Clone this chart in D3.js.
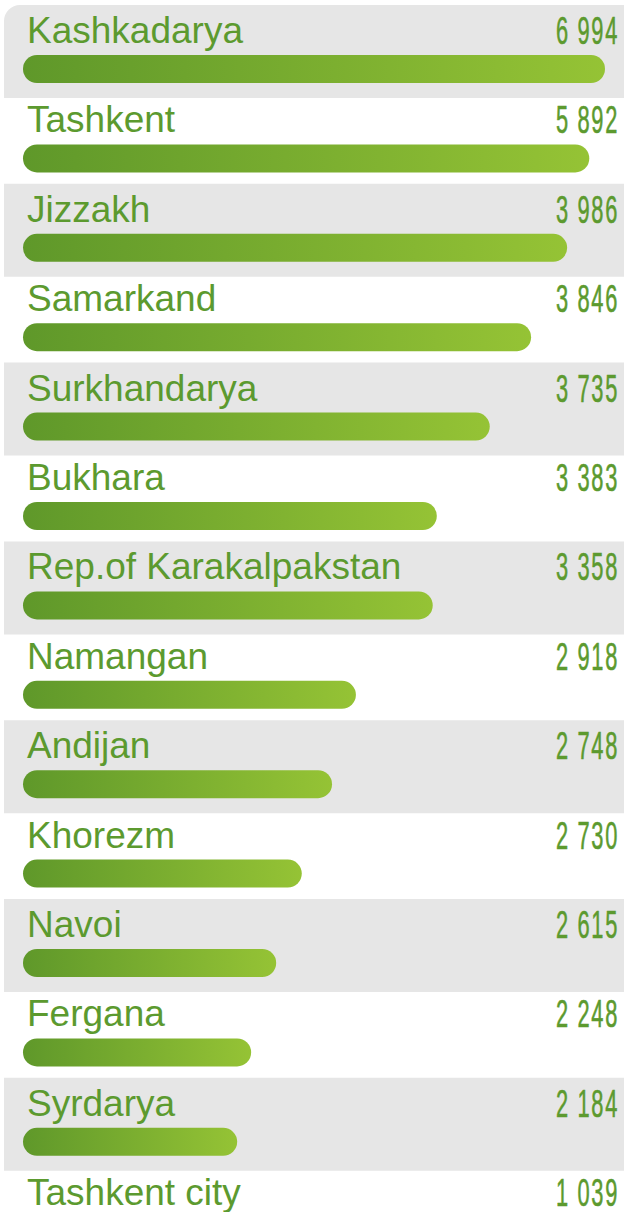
<!DOCTYPE html>
<html>
<head>
<meta charset="utf-8">
<script src="https://cdn.jsdelivr.net/npm/d3@7"></script>
<style>
  html, body { margin: 0; padding: 0; background: #ffffff; }
  svg { display: block; }
</style>
</head>
<body>
<div id="chart"></div>
<script>
// regions, in the order of the picture
var regions = ['Kashkadarya', 'Tashkent', 'Jizzakh', 'Samarkand', 'Surkhandarya', 'Bukhara',
  'Rep.of Karakalpakstan', 'Namangan', 'Andijan', 'Khorezm', 'Navoi', 'Fergana', 'Syrdarya', 'Tashkent city']
// printed numbers
var values = [6994, 5892, 3986, 3846, 3735, 3383, 3358, 2918, 2748, 2730, 2615, 2248, 2184, 1039]
// bar lengths (share of the longest bar, %)
var barShare = [100, 97.3, 93.5, 87.3, 80.2, 71.1, 70.4, 57.2, 53.1, 47.9, 43.5, 39.2, 36.8, 20]

var width = 624
var height = 1212
var rowStep = 89.4
var firstBaseline = 43

var svg = d3.select('#chart').append('svg')
  .attr('width', width)
  .attr('height', height)

var defs = svg.append('defs')
var grad = defs.append('linearGradient')
  .attr('id', 'barGrad')
  .attr('x1', '0%').attr('x2', '100%')
  .attr('y1', '0%').attr('y2', '0%')
grad.append('stop').attr('offset', '0%').attr('stop-color', '#5f982a')
grad.append('stop').attr('offset', '100%').attr('stop-color', '#95c335')

// row positions
var y = d3.scaleLinear()
  .domain([0, 1])
  .range([firstBaseline, firstBaseline + rowStep])

// bar length
var x = d3.scaleLinear()
  .domain([0, 100])
  .range([0, 582])

var rows = regions.map(function (name, i) {
  return { name: name, value: values[i], share: barShare[i], i: i }
})

var fmt = function (v) {
  return d3.format(',')(v).replace(',', ' ')
}

// gray bands on every second row
svg.selectAll('.band')
  .data(rows.filter(function (d) { return d.i % 2 === 0 }))
  .enter().append('path')
  .attr('class', 'band')
  .attr('fill', '#e6e6e6')
  .attr('d', function (d) {
    var top = y(d.i) - 38
    var h = 93
    var x0 = 4
    var x1 = width
    if (d.i === 0) {
      var r = 16
      return 'M' + x0 + ',' + (top + r) +
        'A' + r + ',' + r + ' 0 0 1 ' + (x0 + r) + ',' + top +
        'H' + x1 + 'V' + (top + h) + 'H' + x0 + 'Z'
    }
    return 'M' + x0 + ',' + top + 'H' + x1 + 'V' + (top + h) + 'H' + x0 + 'Z'
  })

var row = svg.selectAll('.row')
  .data(rows)
  .enter().append('g')
  .attr('class', 'row')
  .attr('transform', function (d) { return 'translate(0,' + y(d.i) + ')' })

row.append('text')
  .attr('x', 27)
  .attr('y', 0)
  .attr('fill', '#5c9a2f')
  .style('font-family', '"Liberation Sans", Arial, sans-serif')
  .style('font-size', '37px')
  .text(function (d) { return d.name })

// condensed numbers: squeeze the digits horizontally
row.append('text')
  .attr('transform', 'translate(619,1) scale(0.56,1)')
  .attr('text-anchor', 'end')
  .attr('fill', '#5c9a2f')
  .attr('stroke', '#5c9a2f')
  .attr('stroke-width', 0.6)
  .style('font-family', '"Liberation Sans", Arial, sans-serif')
  .style('font-size', '39px')
  .style('letter-spacing', '3px')
  .text(function (d) { return fmt(d.value) })

row.append('rect')
  .attr('x', 23)
  .attr('y', 12)
  .attr('height', 28)
  .attr('rx', 14)
  .attr('ry', 14)
  .attr('width', function (d) { return x(d.share) })
  .attr('fill', 'url(#barGrad)')
</script>
</body>
</html>
